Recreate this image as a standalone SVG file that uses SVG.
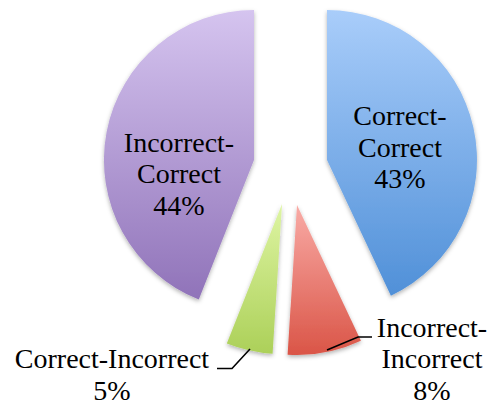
<svg xmlns="http://www.w3.org/2000/svg" width="490" height="406" viewBox="0 0 490 406">
  <style>
    text { font-family: "Liberation Serif", "Times New Roman", serif; font-size: 28px; fill: #000; text-anchor: middle; }
    .leader { fill: none; stroke: #000; stroke-width: 1.6; }
  </style>
  <defs>
    <linearGradient id="gBlue" x1="0" y1="0" x2="0" y2="1">
      <stop offset="0" stop-color="#A9CDFA"/>
      <stop offset="1" stop-color="#5090D8"/>
    </linearGradient>
    <linearGradient id="gPurple" x1="0" y1="0" x2="0" y2="1">
      <stop offset="0" stop-color="#D5C4EF"/>
      <stop offset="1" stop-color="#9073B9"/>
    </linearGradient>
    <linearGradient id="gRed" x1="0" y1="0" x2="0" y2="1">
      <stop offset="0" stop-color="#F9ABA6"/>
      <stop offset="1" stop-color="#DA5547"/>
    </linearGradient>
    <linearGradient id="gGreen" x1="0" y1="0" x2="0" y2="1">
      <stop offset="0" stop-color="#DEF5A3"/>
      <stop offset="1" stop-color="#ACD059"/>
    </linearGradient>
    <filter id="shadow" x="-20%" y="-20%" width="140%" height="140%">
      <feDropShadow dx="0" dy="2" stdDeviation="2" flood-color="#000" flood-opacity="0.3"/>
    </filter>
  </defs>

  <g id="slice-correct-correct">
    <path d="M327,160 L327,10 A150,150 0 0 1 390.9,295.7 Z" fill="url(#gBlue)" filter="url(#shadow)"/>
    <text x="400" y="125">Correct-</text>
    <text x="400" y="157">Correct</text>
    <text x="400" y="188">43%</text>
  </g>

  <g id="slice-incorrect-incorrect">
    <path d="M297,205 L360.9,340.7 A150,150 0 0 1 287.6,354.7 Z" fill="url(#gRed)" filter="url(#shadow)"/>
    <text x="432" y="337">Incorrect-</text>
    <text x="432" y="368">Incorrect</text>
    <text x="432" y="400">8%</text>
  </g>

  <g id="slice-correct-incorrect">
    <path d="M282,204 L272.6,353.7 A150,150 0 0 1 226.8,343.5 Z" fill="url(#gGreen)" filter="url(#shadow)"/>
    <text x="112" y="368">Correct-Incorrect</text>
    <text x="112" y="400">5%</text>
  </g>

  <g id="slice-incorrect-correct">
    <path d="M254,160 L198.8,299.5 A150,150 0 0 1 254,10 Z" fill="url(#gPurple)" filter="url(#shadow)"/>
    <text x="179" y="152">Incorrect-</text>
    <text x="179" y="183">Correct</text>
    <text x="179" y="215">44%</text>
  </g>

  <g id="connectors">
    <polyline class="leader" points="217,368.5 232,368.5 250,349"/>
    <polyline class="leader" points="327,350 358,337 372,337"/>
  </g>
</svg>
